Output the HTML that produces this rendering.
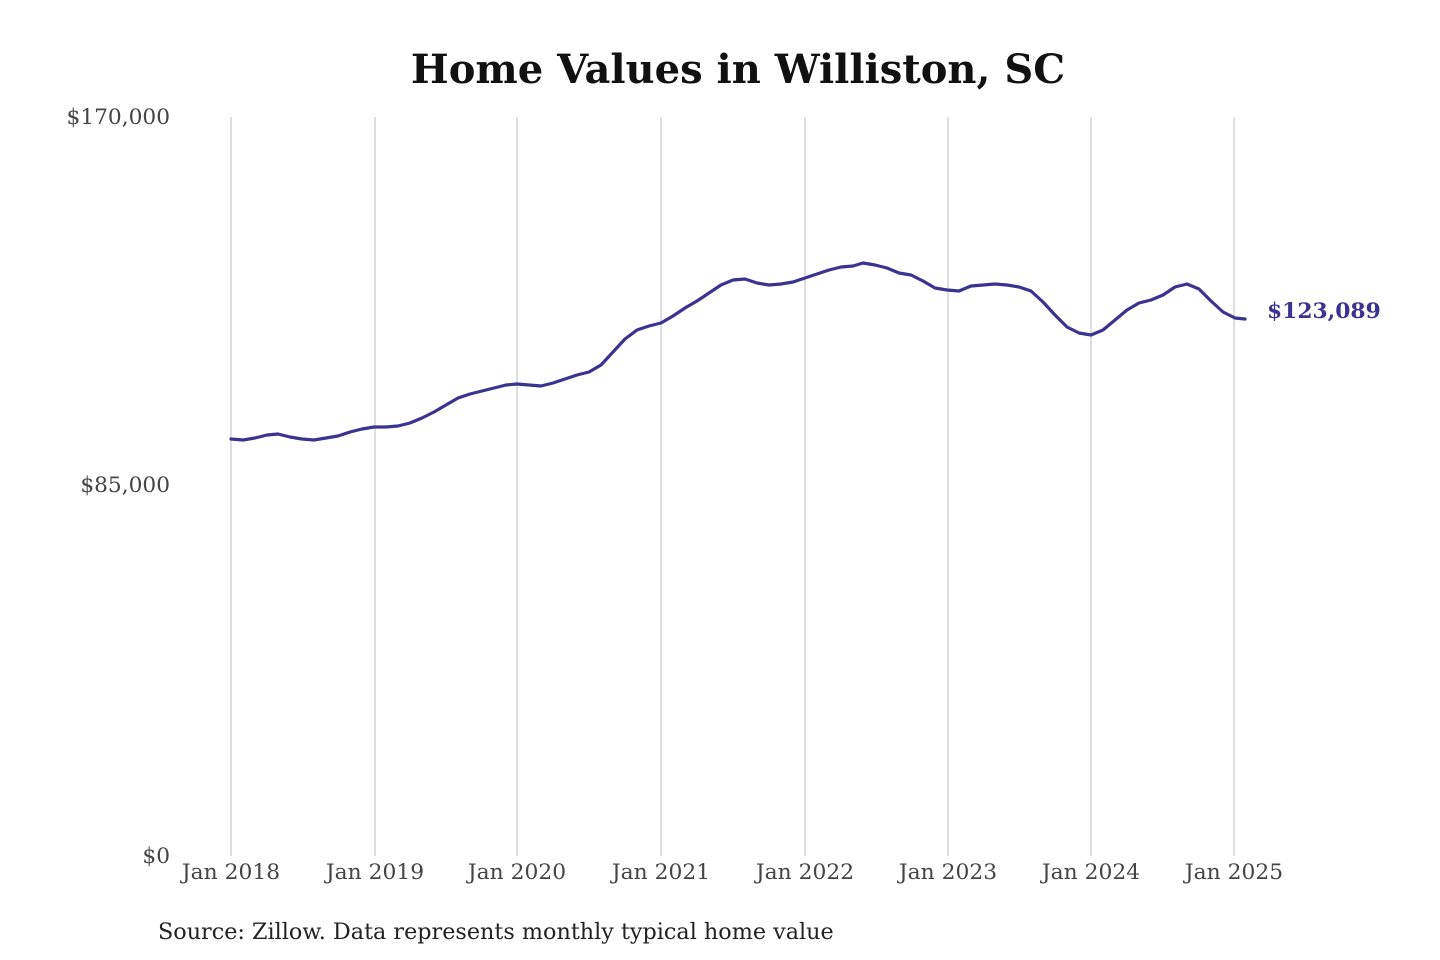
<!DOCTYPE html>
<html><head><meta charset="utf-8"><style>
html,body{margin:0;padding:0;background:#fff;}
svg{display:block;}
</style></head><body>
<svg width="1440" height="960" xmlns="http://www.w3.org/2000/svg" font-family="'DejaVu Serif','Liberation Serif',serif">
<rect width="1440" height="960" fill="#fff"/>
<text x="738" y="83" text-anchor="middle" font-size="40" font-weight="bold" fill="#111">Home Values in Williston, SC</text>
<g stroke="#c8c8c8" stroke-width="1.2">
<line x1="231" y1="117" x2="231" y2="856"/>
<line x1="375" y1="117" x2="375" y2="856"/>
<line x1="517" y1="117" x2="517" y2="856"/>
<line x1="661" y1="117" x2="661" y2="856"/>
<line x1="805" y1="117" x2="805" y2="856"/>
<line x1="948" y1="117" x2="948" y2="856"/>
<line x1="1091" y1="117" x2="1091" y2="856"/>
<line x1="1234" y1="117" x2="1234" y2="856"/>
</g>
<g font-size="21.7" fill="#444" text-anchor="end">
<text x="170" y="124">$170,000</text>
<text x="170" y="492">$85,000</text>
<text x="170" y="863">$0</text>
</g>
<g font-size="21.8" fill="#444" text-anchor="middle">
<text x="231" y="879">Jan 2018</text>
<text x="375" y="879">Jan 2019</text>
<text x="517" y="879">Jan 2020</text>
<text x="661" y="879">Jan 2021</text>
<text x="805" y="879">Jan 2022</text>
<text x="948" y="879">Jan 2023</text>
<text x="1091" y="879">Jan 2024</text>
<text x="1234" y="879">Jan 2025</text>
</g>
<polyline fill="none" stroke="#3a338f" stroke-width="3.2" stroke-linejoin="round" stroke-linecap="round" points="231,439 243,440 255,438 267,435 278,434 290,437 302,439 314,440 326,438 338,436 350,432 362,429 374,427 386,427 398,426 410,423 422,418 434,412 446,405 458,398 470,394 482,391 494,388 506,385 517,384 529,385 541,386 553,383 565,379 577,375 589,372 601,365 613,352 625,339 637,330 649,326 661,323 673,316 685,308 697,301 709,293 721,285 733,280 745,279 757,283 769,285 781,284 793,282 805,278 817,274 829,270 841,267 853,266 863,263 875,265 887,268 899,273 911,275 923,281 935,288 947,290 959,291 971,286 983,285 995,284 1007,285 1019,287 1031,291 1043,302 1055,315 1067,327 1079,333 1091,335 1103,330 1115,320 1127,310 1139,303 1151,300 1163,295 1175,287 1187,284 1199,289 1211,301 1223,312 1235,318 1245,319"/>
<text x="1267" y="318" font-size="21.8" font-weight="bold" fill="#3a338f">$123,089</text>
<text x="158" y="939" font-size="22.3" fill="#222">Source: Zillow. Data represents monthly typical home value</text>
</svg>
</body></html>
